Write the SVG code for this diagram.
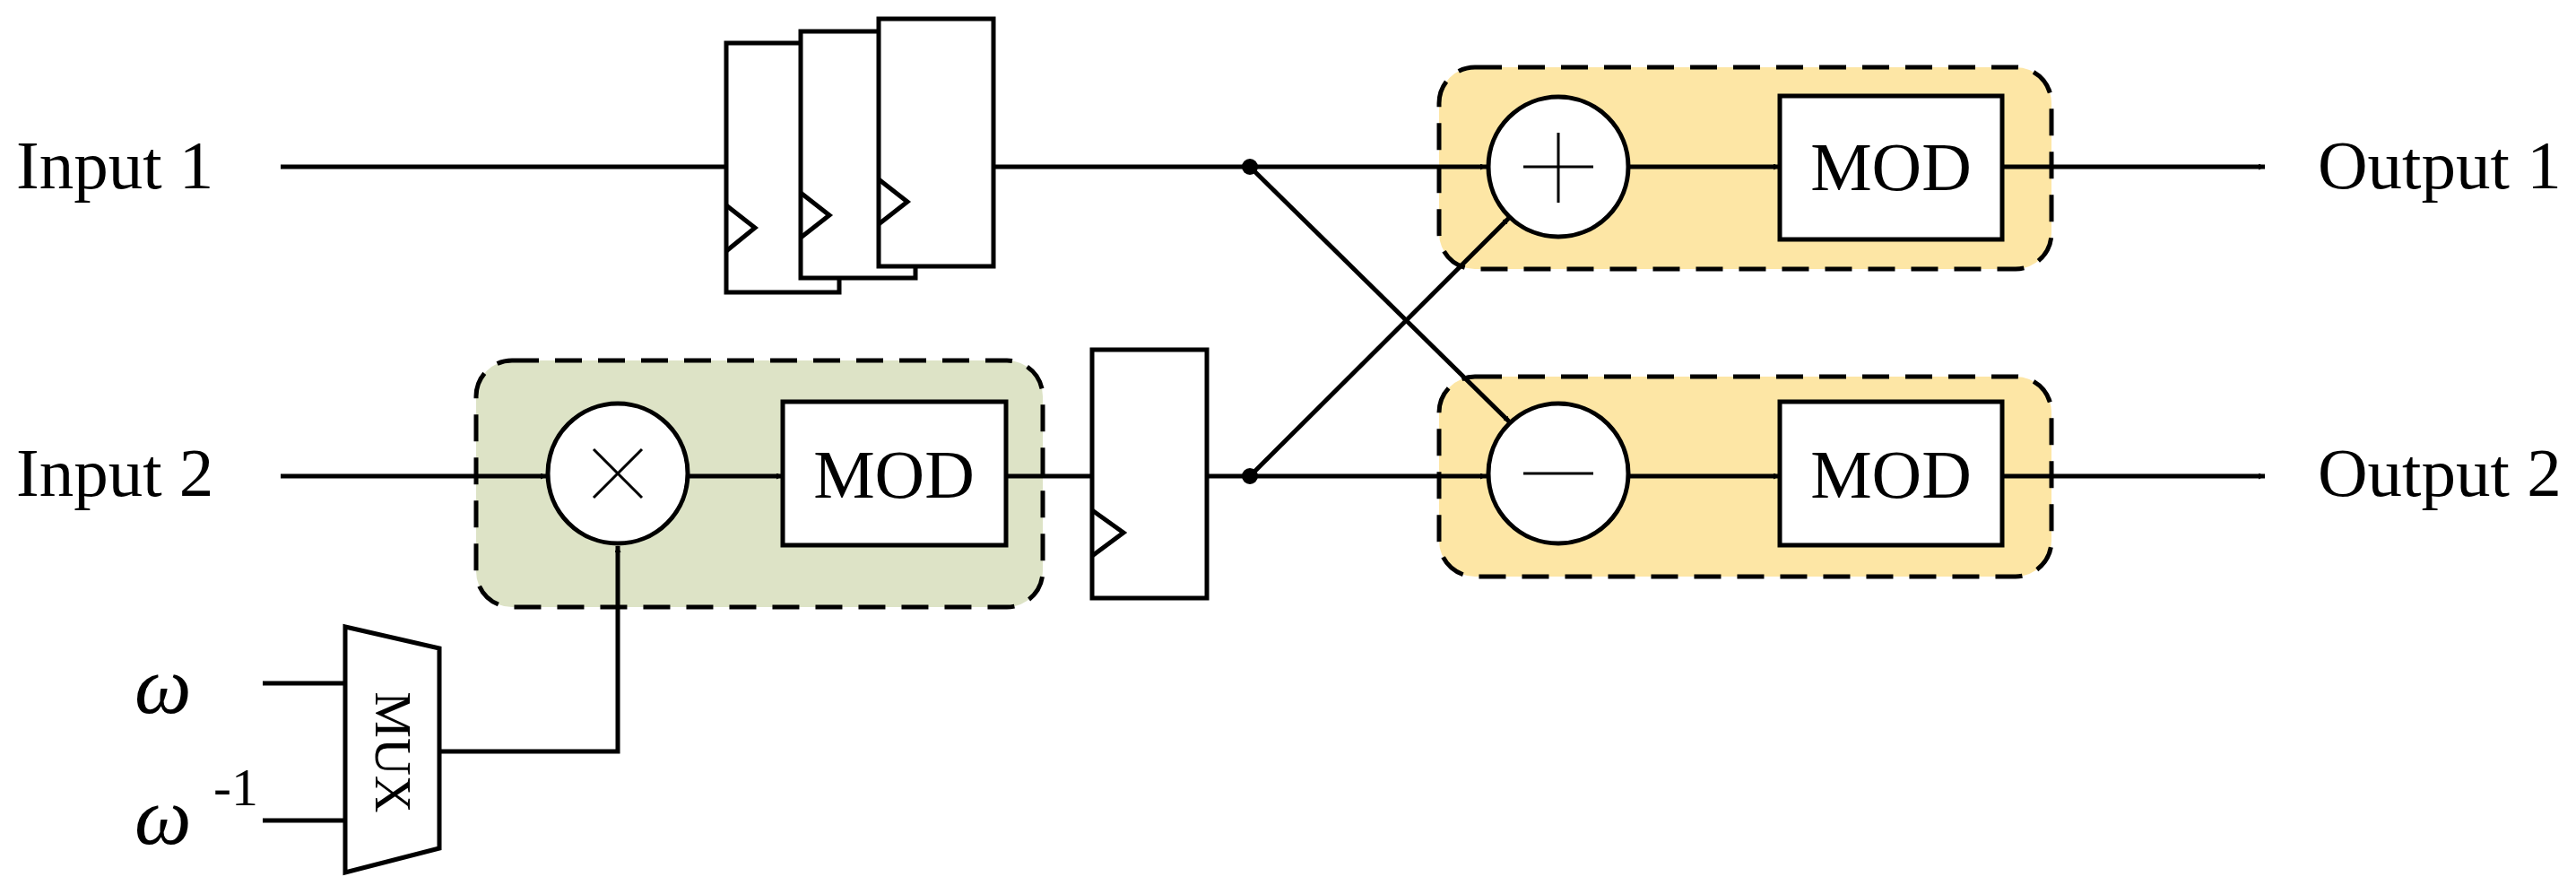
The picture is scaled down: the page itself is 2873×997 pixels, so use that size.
<svg xmlns="http://www.w3.org/2000/svg" width="2873" height="997" viewBox="0 0 2873 997">
<defs>
<marker id="ah" viewBox="0 0 10 10" refX="10" refY="5" markerWidth="7" markerHeight="7" markerUnits="userSpaceOnUse" orient="auto"><path d="M0,0 L10,5 L0,10 z" fill="#000"/></marker>
<style>
.t{font-family:"Liberation Serif",serif;font-size:77px;fill:#000}
.s{fill:none;stroke:#000;stroke-width:5}
.w{fill:#fff;stroke:#000;stroke-width:5}
.g{fill:#dde3c6;stroke:#000;stroke-width:5;stroke-dasharray:30 18}
.y{fill:#fde6a5;stroke:#000;stroke-width:5;stroke-dasharray:30 18}
.c{fill:none;stroke:#000;stroke-width:5}
.a{fill:none;stroke:#000;stroke-width:5;marker-end:url(#ah)}
</style>
</defs>
<rect width="2873" height="997" fill="#fff"/>
<g id="groups">
<rect id="mulgroup" x="531" y="402" width="632" height="275" rx="40" class="g"/>
<rect id="addgroup" x="1605" y="75" width="683" height="225" rx="40" class="y"/>
<rect id="subgroup" x="1605" y="420" width="683" height="223" rx="40" class="y"/>
</g>
<g id="connectors">
<line x1="313" y1="186" x2="810" y2="186" class="c"/>
<line x1="1108" y1="186" x2="1394" y2="186" class="c"/>
<line x1="1394" y1="186" x2="1658" y2="186" class="a" style="stroke-width:5" marker-end="url(#ah)"/>
<line x1="313" y1="531" x2="610" y2="531" class="a"/>
<line x1="767" y1="531" x2="873" y2="531" class="a"/>
<line x1="1122" y1="531" x2="1218" y2="531" class="c"/>
<line x1="1346" y1="531" x2="1394" y2="531" class="c"/>
<line x1="1394" y1="531" x2="1658" y2="531" class="a"/>
<line x1="1394" y1="186" x2="1684" y2="471" class="a"/>
<line x1="1394" y1="531" x2="1683" y2="243" class="a"/>
<line x1="1816" y1="186" x2="1985" y2="186" class="a"/>
<line x1="1816" y1="531" x2="1985" y2="531" class="a"/>
<line x1="2233" y1="186" x2="2526" y2="186" class="a"/>
<line x1="2233" y1="531" x2="2526" y2="531" class="a"/>
<line x1="293" y1="762" x2="385" y2="762" class="c"/>
<line x1="293" y1="915" x2="385" y2="915" class="c"/>
<polyline points="490,838 689,838 689,609" class="a"/>
<circle cx="1394" cy="186" r="9" fill="#000"/>
<circle cx="1394" cy="531" r="9" fill="#000"/>
</g>
<g id="reg1"><rect x="810" y="48" width="126" height="278" class="w"/><polyline points="810,229 842,254 810,280" class="s"/></g>
<g id="reg2"><rect x="893" y="35" width="128" height="275" class="w"/><polyline points="893,215 925,240 893,265" class="s"/></g>
<g id="reg3"><rect x="980" y="21" width="128" height="276" class="w"/><polyline points="980,200 1012,225 980,250" class="s"/></g>
<g id="reg4"><rect x="1218" y="390" width="128" height="277" class="w"/><polyline points="1218,569 1253,594 1218,620" class="s"/></g>
<g id="mul"><circle cx="689" cy="528" r="78" class="w"/><path d="M662,501 L716,555 M716,501 L662,555" class="s" style="stroke-width:3"/></g>
<g id="mod0"><rect x="873" y="448" width="249" height="160" class="w"/><text x="997" y="555" class="t" text-anchor="middle">MOD</text></g>
<g id="add"><circle cx="1738" cy="186" r="78" class="w"/><path d="M1738,148 V226 M1699,186 H1777" class="s" style="stroke-width:3"/></g>
<g id="mod1"><rect x="1985" y="107" width="248" height="160" class="w"/><text x="2109" y="212" class="t" text-anchor="middle">MOD</text></g>
<g id="sub"><circle cx="1738" cy="528" r="78" class="w"/><path d="M1699,528 H1777" class="s" style="stroke-width:3"/></g>
<g id="mod2"><rect x="1985" y="448" width="248" height="160" class="w"/><text x="2109" y="555" class="t" text-anchor="middle">MOD</text></g>
<g id="mux"><polygon points="385,699 490,723 490,946 385,973" class="w"/><text x="438" y="839" class="t" style="font-size:58px" text-anchor="middle" dominant-baseline="central" transform="rotate(90 438 839)">MUX</text></g>
<g id="labels">
<text x="18" y="210" class="t">Input 1</text>
<text x="18" y="553" class="t">Input 2</text>
<text x="2585" y="210" class="t">Output 1</text>
<text x="2585" y="553" class="t">Output 2</text>
<text x="150" y="795" class="t" style="font-style:italic;font-size:90px">ω</text>
<text x="150" y="941" class="t" style="font-style:italic;font-size:90px">ω</text>
<text x="238" y="898" class="t" style="font-size:60px">-1</text>
</g>
</svg>
